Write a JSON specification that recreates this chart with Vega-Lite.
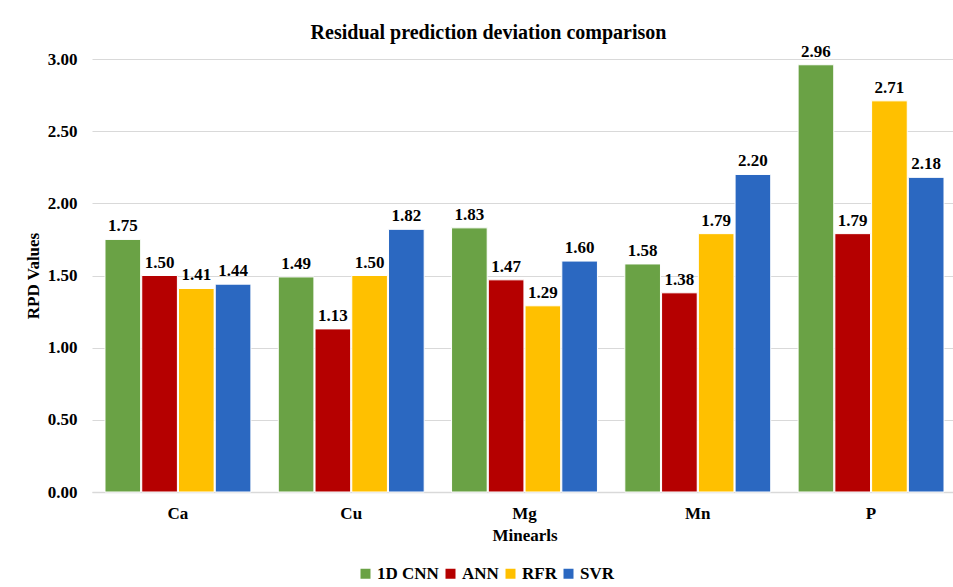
{
  "$schema": "https://vega.github.io/schema/vega-lite/v6.json",
  "autosize": "none",
  "width": 865,
  "height": 433,
  "padding": {"left": 92, "top": 59, "right": 0, "bottom": 95},
  "background": "white",
  "title": {
    "text": "Residual prediction deviation comparison",
    "font": "Liberation Serif",
    "fontSize": 20,
    "fontWeight": "bold",
    "color": "#000000",
    "anchor": "middle",
    "dx": -36,
    "baseline": "alphabetic",
    "offset": -16
  },
  "data": {
    "values": [
      {"mineral": "Ca", "model": "1D CNN", "rpd": 1.75},
      {"mineral": "Ca", "model": "ANN", "rpd": 1.50},
      {"mineral": "Ca", "model": "RFR", "rpd": 1.41},
      {"mineral": "Ca", "model": "SVR", "rpd": 1.44},
      {"mineral": "Cu", "model": "1D CNN", "rpd": 1.49},
      {"mineral": "Cu", "model": "ANN", "rpd": 1.13},
      {"mineral": "Cu", "model": "RFR", "rpd": 1.50},
      {"mineral": "Cu", "model": "SVR", "rpd": 1.82},
      {"mineral": "Mg", "model": "1D CNN", "rpd": 1.83},
      {"mineral": "Mg", "model": "ANN", "rpd": 1.47},
      {"mineral": "Mg", "model": "RFR", "rpd": 1.29},
      {"mineral": "Mg", "model": "SVR", "rpd": 1.60},
      {"mineral": "Mn", "model": "1D CNN", "rpd": 1.58},
      {"mineral": "Mn", "model": "ANN", "rpd": 1.38},
      {"mineral": "Mn", "model": "RFR", "rpd": 1.79},
      {"mineral": "Mn", "model": "SVR", "rpd": 2.20},
      {"mineral": "P", "model": "1D CNN", "rpd": 2.96},
      {"mineral": "P", "model": "ANN", "rpd": 1.79},
      {"mineral": "P", "model": "RFR", "rpd": 2.71},
      {"mineral": "P", "model": "SVR", "rpd": 2.18}
    ]
  },
  "encoding": {
    "x": {
      "field": "mineral",
      "type": "nominal",
      "sort": ["Ca", "Cu", "Mg", "Mn", "P"],
      "scale": {"paddingInner": 0.158, "paddingOuter": 0.075},
      "axis": {
        "title": "Minearls",
        "labelAngle": 0,
        "ticks": false,
        "domain": true,
        "domainColor": "#d9d9d9",
        "domainWidth": 1.5,
        "labelPadding": 13,
        "labelFont": "Liberation Serif",
        "labelFontSize": 17,
        "labelFontWeight": "bold",
        "labelColor": "#000000",
        "titleFont": "Liberation Serif",
        "titleFontSize": 17,
        "titleFontWeight": "bold",
        "titleColor": "#000000",
        "titlePadding": 6
      }
    },
    "xOffset": {
      "field": "model",
      "type": "nominal",
      "sort": ["1D CNN", "ANN", "RFR", "SVR"],
      "scale": {"paddingInner": 0.03}
    },
    "y": {
      "field": "rpd",
      "type": "quantitative",
      "scale": {"domain": [0, 3], "nice": false, "zero": true},
      "axis": {
        "title": "RPD Values",
        "values": [0, 0.5, 1, 1.5, 2, 2.5, 3],
        "format": ".2f",
        "domain": false,
        "ticks": false,
        "grid": true,
        "gridColor": "#d9d9d9",
        "gridWidth": 1,
        "labelPadding": 15,
        "labelFont": "Liberation Serif",
        "labelFontSize": 17,
        "labelFontWeight": "bold",
        "labelColor": "#000000",
        "titleFont": "Liberation Serif",
        "titleFontSize": 17,
        "titleFontWeight": "bold",
        "titleColor": "#000000",
        "titlePadding": 5
      }
    }
  },
  "layer": [
    {
      "mark": {"type": "bar", "stroke": "white", "strokeWidth": 1},
      "encoding": {
        "color": {
          "field": "model",
          "type": "nominal",
          "sort": ["1D CNN", "ANN", "RFR", "SVR"],
          "scale": {
            "domain": ["1D CNN", "ANN", "RFR", "SVR"],
            "range": ["#6AA245", "#B50000", "#FFC000", "#2B68C1"]
          },
          "legend": {
            "title": null,
            "orient": "none",
            "direction": "horizontal",
            "legendX": 265,
            "legendY": 506,
            "symbolType": "square",
            "symbolSize": 100,
            "symbolStrokeWidth": 0,
            "labelFont": "Liberation Serif",
            "labelFontSize": 17,
            "labelFontWeight": "bold",
            "labelColor": "#000000",
            "labelOffset": 3,
            "columnPadding": 3
          }
        }
      }
    },
    {
      "mark": {
        "type": "text",
        "font": "Liberation Serif",
        "fontSize": 17,
        "fontWeight": "bold",
        "color": "#000000",
        "baseline": "alphabetic",
        "dy": -8
      },
      "encoding": {
        "text": {"field": "rpd", "type": "quantitative", "format": ".2f"}
      }
    }
  ],
  "config": {"view": {"stroke": null}}
}
